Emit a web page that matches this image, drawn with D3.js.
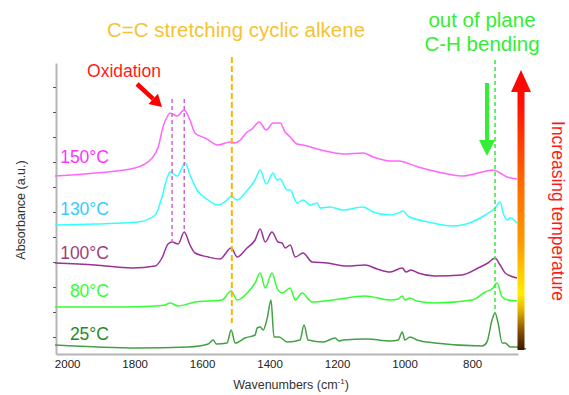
<!DOCTYPE html>
<html><head><meta charset="utf-8">
<script src="https://cdn.jsdelivr.net/npm/d3@7"></script>
<style>body{margin:0;background:#fff}svg{display:block;font-family:"Liberation Sans",Arial,sans-serif}</style>
</head><body><svg id="c" width="569" height="395"></svg>
<script>
// ---- data ----
const xTicks = [2000, 1800, 1600, 1400, 1200, 1000, 800];
const yTicks = [0.25, 0.5, 0.75, 1.0, 1.25, 1.5, 1.75, 2.0, 2.25, 2.5, 2.75];

const wn150 = [2036,1917,1799,1748,1730,1716,1704,1695,1674,1653,1636,1621,1591,1553,1517,1502,1487,1467,1452,1431,1410,1390,1369,1354,1339,1319,1301,1259,1221,1182,1123,1093,1043,1019,960,901,830,782,738,717,696,667];
const abs150 = [1.86,1.89,1.94,2.04,2.15,2.35,2.45,2.49,2.46,2.52,2.42,2.29,2.24,2.17,2.20,2.19,2.22,2.30,2.33,2.40,2.32,2.39,2.39,2.30,2.25,2.18,2.17,2.13,2.10,2.08,2.09,2.05,2.01,2.01,1.95,1.90,1.86,1.89,1.92,1.89,1.85,1.83];

const wn130 = [2036,1917,1790,1739,1719,1704,1695,1674,1650,1636,1615,1582,1553,1526,1514,1496,1473,1458,1443,1428,1410,1390,1378,1369,1348,1339,1319,1301,1280,1259,1250,1221,1182,1123,1093,1043,1019,1004,990,930,859,800,761,732,717,708,696,687,667];
const abs130 = [1.37,1.38,1.40,1.47,1.65,1.84,1.90,1.86,1.99,1.87,1.72,1.62,1.57,1.62,1.66,1.62,1.69,1.75,1.82,1.92,1.78,1.89,1.82,1.83,1.72,1.72,1.59,1.62,1.57,1.59,1.54,1.55,1.52,1.55,1.50,1.47,1.49,1.51,1.46,1.40,1.36,1.40,1.47,1.54,1.60,1.49,1.42,1.44,1.39];

const wn100 = [2036,1917,1807,1739,1719,1701,1689,1671,1653,1636,1621,1582,1547,1514,1496,1467,1443,1428,1413,1393,1375,1363,1354,1339,1324,1301,1274,1230,1170,1117,1081,1043,1007,996,981,960,910,830,782,753,732,717,702,667];
const abs100 = [0.99,0.97,0.94,0.96,1.04,1.18,1.20,1.18,1.30,1.17,1.09,1.05,1.03,1.14,1.05,1.14,1.22,1.33,1.20,1.30,1.20,1.19,1.14,1.17,1.05,1.09,1.00,0.99,0.96,0.97,0.93,0.90,0.94,0.90,0.92,0.89,0.86,0.87,0.94,0.99,1.04,0.97,0.89,0.84];

const wn80 = [2036,1837,1739,1710,1695,1671,1621,1582,1541,1514,1496,1464,1443,1428,1413,1393,1378,1363,1339,1324,1304,1274,1212,1117,1043,1019,1007,999,984,963,910,800,761,738,726,711,693,667];
const abs80 = [0.55,0.55,0.56,0.57,0.59,0.56,0.60,0.61,0.62,0.71,0.62,0.70,0.79,0.89,0.74,0.89,0.74,0.69,0.74,0.62,0.69,0.60,0.62,0.66,0.62,0.63,0.66,0.62,0.64,0.61,0.59,0.62,0.70,0.74,0.79,0.65,0.62,0.61];

const wn25 = [2036,1790,1641,1582,1567,1558,1526,1514,1502,1473,1443,1437,1428,1419,1407,1396,1387,1372,1348,1310,1298,1286,1241,1206,1194,1182,1111,1043,1019,1007,999,984,963,910,770,756,741,732,723,711,702,687,667,640];
const abs25 = [0.17,0.14,0.15,0.18,0.22,0.18,0.19,0.32,0.19,0.24,0.27,0.34,0.35,0.32,0.44,0.62,0.25,0.25,0.20,0.22,0.37,0.22,0.20,0.24,0.21,0.22,0.23,0.21,0.22,0.30,0.22,0.25,0.22,0.19,0.16,0.20,0.42,0.49,0.39,0.19,0.19,0.15,0.15,0.13];

const seriesNames = ["150°C", "130°C", "100°C", "80°C", "25°C"];
const seriesWn = [wn150, wn130, wn100, wn80, wn25];
const seriesAbs = [abs150, abs130, abs100, abs80, abs25];
const labelAbs = [1.99, 1.47, 1.03, 0.65, 0.22];

// marker lines (wavenumber, top absorbance, bottom absorbance)
const oxLines = [[1689, 2.63, 1.19], [1653, 2.63, 1.30]];
const alkeneLine = [1512, 3.05, 0.39];
const chLine = [732, 3.02, 0.49];

// ---- styles ----
const lineColors = ["#ff66ff", "#33ffff", "#993399", "#33ff33", "#44a044"];
const labelColors = ["#ff33ff", "#33ccff", "#a0407a", "#33ff33", "#1e8c1e"];

const svg = d3.select('#c');
const x = d3.scaleLinear().domain([2033, 664]).range([56, 518]);
const y = d3.scaleLinear().domain([0.08, 2.99]).range([354, 63]);

// axes
const gx = svg.append('g').attr('transform', 'translate(0,354)')
  .call(d3.axisBottom(x).tickValues(xTicks).tickSize(0).tickSizeOuter(0).tickPadding(6).tickFormat(d3.format('d')));
gx.select('.domain').attr('stroke', '#b5b5b5').attr('stroke-width', 2);
gx.selectAll('text').attr('font-size', 11.5).attr('fill', '#222').attr('font-family', '"Liberation Sans",Arial,sans-serif');

const gy = svg.append('g').attr('transform', 'translate(56,0)')
  .call(d3.axisLeft(y).tickValues(yTicks).tickSize(3).tickSizeOuter(0).tickFormat(''));
gy.select('.domain').attr('stroke', '#b5b5b5').attr('stroke-width', 2);
gy.selectAll('.tick line').attr('stroke', '#555');

// curves
const line = d3.line().x(d => x(d[0])).y(d => y(d[1])).curve(d3.curveMonotoneX);
seriesNames.forEach((n, i) => {
  const pts = d3.zip(seriesWn[i], seriesAbs[i]);
  svg.append('path').attr('d', line(pts)).attr('fill', 'none')
    .attr('stroke', lineColors[i]).attr('stroke-width', 1.5);
  svg.append('text').attr('x', 109).attr('y', y(labelAbs[i]))
    .attr('text-anchor', 'end').attr('font-size', 17.5).attr('fill', labelColors[i]).text(n);
});

// dashed marker lines
oxLines.forEach(l => {
  svg.append('line').attr('x1', x(l[0])).attr('x2', x(l[0])).attr('y1', y(l[1])).attr('y2', y(l[2]))
    .attr('stroke', '#cc66cc').attr('stroke-width', 1.5).attr('stroke-dasharray', '4,3');
});
svg.append('line').attr('x1', x(alkeneLine[0])).attr('x2', x(alkeneLine[0]))
  .attr('y1', y(alkeneLine[1])).attr('y2', y(alkeneLine[2]))
  .attr('stroke', '#ffb400').attr('stroke-width', 2).attr('stroke-dasharray', '6,3');
svg.append('line').attr('x1', x(chLine[0])).attr('x2', x(chLine[0]))
  .attr('y1', y(chLine[1])).attr('y2', y(chLine[2]))
  .attr('stroke', '#33ee33').attr('stroke-width', 1.5).attr('stroke-dasharray', '4,3');

// annotation texts
svg.append('text').attr('x', 236).attr('y', 37).attr('text-anchor', 'middle')
  .attr('font-size', 20.5).attr('fill', '#f7c232').text('C=C stretching cyclic alkene');
svg.append('text').attr('x', 482).attr('y', 27).attr('text-anchor', 'middle')
  .attr('font-size', 20.5).attr('fill', '#33ee33').text('out of plane');
svg.append('text').attr('x', 482).attr('y', 51).attr('text-anchor', 'middle')
  .attr('font-size', 20.5).attr('fill', '#33ee33').text('C-H bending');
svg.append('text').attr('x', 124).attr('y', 77).attr('text-anchor', 'middle')
  .attr('font-size', 17.5).attr('fill', '#ff1a1a').text('Oxidation');

// axis titles
const xl = svg.append('text').attr('x', 291).attr('y', 389).attr('text-anchor', 'middle')
  .attr('font-size', 12.5).attr('fill', '#333');
xl.append('tspan').text('Wavenumbers (cm');
xl.append('tspan').attr('font-size', 8).attr('dy', -5).text('-1');
xl.append('tspan').attr('dy', 5).text(')');

svg.append('text').attr('transform', 'translate(25,210) rotate(-90)').attr('text-anchor', 'middle')
  .attr('font-size', 12.5).attr('fill', '#333').text('Absorbance (a.u.)');

svg.append('text').attr('transform', 'translate(552,211) rotate(90)').attr('text-anchor', 'middle')
  .attr('font-size', 17.5).attr('fill', '#ff1a1a').text('Increasing temperature');

// oxidation arrow
(function () {
  const x1 = 137, y1 = 84, x2 = 162, y2 = 107;
  const ang = Math.atan2(y2 - y1, x2 - x1);
  const hl = 12, hw = 7;
  const bx = x2 - hl * Math.cos(ang), by = y2 - hl * Math.sin(ang);
  svg.append('line').attr('x1', x1).attr('y1', y1).attr('x2', bx).attr('y2', by)
    .attr('stroke', '#ff0000').attr('stroke-width', 4.5);
  const px = -Math.sin(ang) * hw, py = Math.cos(ang) * hw;
  svg.append('path').attr('d', `M${x2},${y2}L${bx + px},${by + py}L${bx - px},${by - py}Z`).attr('fill', '#ff0000');
})();

// green arrow
svg.append('line').attr('x1', 487).attr('y1', 83).attr('x2', 487).attr('y2', 143)
  .attr('stroke', '#33ee33').attr('stroke-width', 4);
svg.append('path').attr('d', 'M479,140L495,140L487,156Z').attr('fill', '#33ee33');

// gradient temperature arrow
const defs = svg.append('defs');
const grad = defs.append('linearGradient').attr('id', 'tg').attr('gradientUnits', 'userSpaceOnUse')
  .attr('x1', 0).attr('x2', 0).attr('y1', 70).attr('y2', 350);
[[0, '#ff0000'], [0.12, '#ff1000'], [0.4, '#ff6a00'], [0.62, '#ff9a00'], [0.8, '#ffee00'], [0.86, '#e0b000'], [0.93, '#8a5000'], [1, '#3a1500']]
  .forEach(s => grad.append('stop').attr('offset', s[0]).attr('stop-color', s[1]));
svg.append('path').attr('d', 'M521,70L531,92L524.5,92L524.5,350L517.5,350L517.5,92L511,92Z').attr('fill', 'url(#tg)');
</script></body></html>
